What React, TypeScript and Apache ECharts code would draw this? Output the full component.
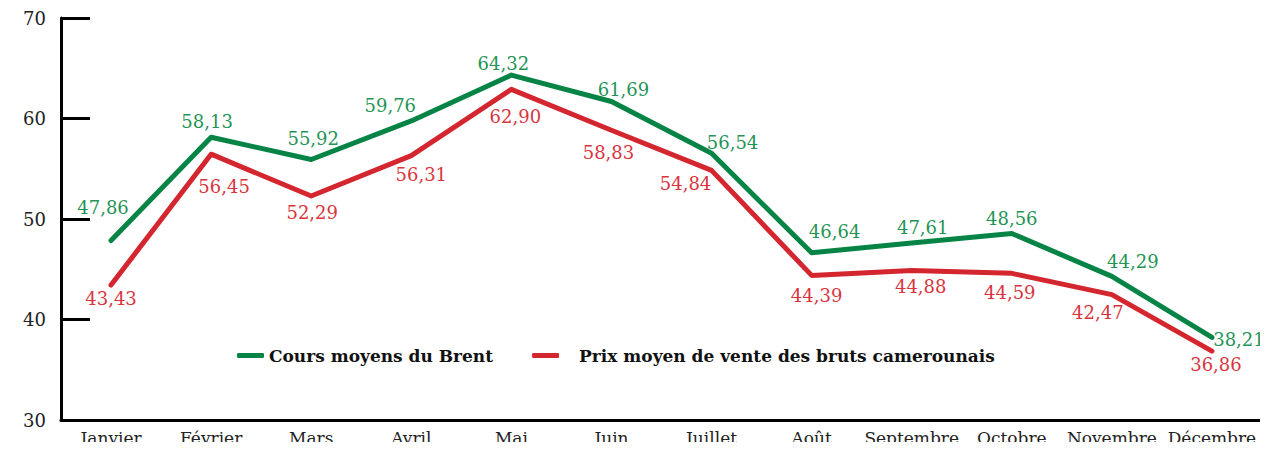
import React, { useEffect, useRef } from "react";
import * as echarts from "echarts";

const months = ["Janvier", "Février", "Mars", "Avril", "Mai", "Juin", "Juillet", "Août", "Septembre", "Octobre", "Novembre", "Décembre"];
const brent = [47.86, 58.13, 55.92, 59.76, 64.32, 61.69, 56.54, 46.64, 47.61, 48.56, 44.29, 38.21];
const cameroun = [43.43, 56.45, 52.29, 56.31, 62.9, 58.83, 54.84, 44.39, 44.88, 44.59, 42.47, 36.86];
const brentName = "Cours moyens du Brent";
const camerounName = "Prix moyen de vente des bruts camerounais";

// label offsets (layout only)
const brentLabelOffsets = [[-8, -33], [-4, -16], [2, -21], [-21, -15], [-8, -12], [12, -12], [21, -11], [23, -21], [11, -16], [0, -15], [21, -15], [27, 2]];
const camerounLabelOffsets = [[0, 13], [13, 32], [1, 17], [10, 19], [4, 27], [-3, 22], [-26, 13], [5, 20], [9, 16], [-2, 19], [-14, 18], [4, 13]];

const GREEN = "#068446";
const RED = "#d4262f";
const GREEN_LABEL = "#1f9455";
const RED_LABEL = "#d9343e";
const FONT = "DejaVu Serif";

const fmt = (p: any) => Number(p.value).toFixed(2).replace(".", ",");

export default function App() {
  const ref = useRef<HTMLDivElement>(null);
  useEffect(() => {
    if (!ref.current) return;
    const chart = echarts.init(ref.current, null, { renderer: "svg" });
    const mk = (vals: number[], offs: number[][]) =>
      vals.map((v, i) => ({ value: v, label: { offset: offs[i] } }));
    const labelStyle = (color: string) => ({
      show: true,
      position: "inside",
      align: "center",
      verticalAlign: "middle",
      fontFamily: FONT,
      fontSize: 18,
      color,
      formatter: fmt,
    });
    chart.setOption({
      animation: false,
      grid: { left: 61, right: 6, top: 18, bottom: 30 },
      legend: {
        left: 232,
        top: 342,
        icon: "roundRect",
        itemWidth: 27,
        itemHeight: 5,
        itemGap: 39,
        textStyle: { fontFamily: FONT, fontWeight: "bold", fontSize: 17, color: "#111" },
        data: [
          { name: brentName },
          { name: camerounName, textStyle: { padding: [0, 0, 0, 15] } },
        ],
      },
      xAxis: {
        type: "category",
        data: months,
        boundaryGap: true,
        axisLine: { lineStyle: { color: "#000", width: 3 } },
        axisTick: { inside: true, length: 12, lineStyle: { color: "#000", width: 2.5 } },
        axisLabel: { fontFamily: FONT, fontSize: 17, color: "#222", margin: 9, interval: 0 },
        splitLine: { show: false },
      },
      yAxis: {
        type: "value",
        min: 30,
        max: 70,
        interval: 10,
        axisLine: { show: true, lineStyle: { color: "#000", width: 3 } },
        axisTick: { show: true, inside: true, length: 29, lineStyle: { color: "#000", width: 3 } },
        axisLabel: { fontFamily: FONT, fontSize: 18, color: "#222", margin: 15 },
        splitLine: { show: false },
      },
      series: [
        {
          name: brentName,
          type: "line",
          color: GREEN,
          data: mk(brent, brentLabelOffsets),
          symbol: "circle",
          symbolSize: 1,
          lineStyle: { color: GREEN, width: 5, cap: "round", join: "round" },
          itemStyle: { color: GREEN },
          label: labelStyle(GREEN_LABEL),
        },
        {
          name: camerounName,
          type: "line",
          color: RED,
          data: mk(cameroun, camerounLabelOffsets),
          symbol: "circle",
          symbolSize: 1,
          lineStyle: { color: RED, width: 5, cap: "round", join: "round" },
          itemStyle: { color: RED },
          label: labelStyle(RED_LABEL),
        },
      ],
    });
    return () => chart.dispose();
  }, []);
  return <div ref={ref} style={{ width: 1268, height: 450, margin: -8 }} />;
}
